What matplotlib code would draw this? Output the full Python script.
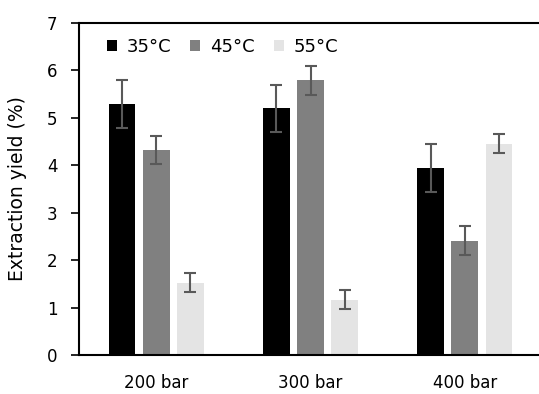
import matplotlib
matplotlib.use("Agg")
import matplotlib.pyplot as plt
import numpy as np

categories = ["200 bar", "300 bar", "400 bar"]
series = ["35°C", "45°C", "55°C"]
y35 = [5.29, 5.20, 3.94]
y45 = [4.32, 5.79, 2.41]
y55 = [1.52, 1.16, 4.45]
e35 = [0.50, 0.50, 0.50]
e45 = [0.30, 0.30, 0.30]
e55 = [0.20, 0.20, 0.20]
colors = ["#000000", "#808080", "#E4E4E4"]

plt.rcParams['font.family'] = ['DejaVu Sans']

fig = plt.figure(figsize=(5.39, 3.94), dpi=100)
ax = fig.add_axes([79/539, 1-355/394, (542-79)/539, (355-23)/394])

x = np.arange(len(categories))
w = 26.7/154.3
step = 34.2/154.3
vals = [y35, y45, y55]
errs = [e35, e45, e55]
for i, (v, e, c, s) in enumerate(zip(vals, errs, colors, series)):
    ax.bar(x + (i-1)*step, v, width=w, color=c, label=s, zorder=2)
    ax.errorbar(x + (i-1)*step, v, yerr=e, fmt='none', ecolor='#595959',
                elinewidth=1.5, capsize=4, capthick=1.5, zorder=3)

ax.set_xlim(-0.5, 2.5)
ax.set_ylim(0, 7)
ax.set_yticks(range(0, 8))
ax.set_xticks(x)
ax.set_xticklabels(categories)
ax.tick_params(axis='x', length=0, pad=14, labelsize=12)
ax.tick_params(axis='y', length=5.5, width=1.2, pad=10, labelsize=12, direction='out')
for sp in ['left', 'bottom', 'top']:
    ax.spines[sp].set_linewidth(1.5)
ax.spines['right'].set_visible(False)
ax.set_ylabel("Extraction yield (%)", fontsize=13.5)
ax.yaxis.set_label_coords(-0.112, 0.5)

leg = ax.legend(loc='center left', bbox_to_anchor=(106.7/539, 1-46.5/394),
                bbox_transform=fig.transFigure, ncol=3, frameon=False,
                fontsize=13, handlelength=0.55, handleheight=0.55, handletextpad=0.55,
                columnspacing=1.05, borderaxespad=0, borderpad=0)

fig.savefig("out.png", dpi=100)
